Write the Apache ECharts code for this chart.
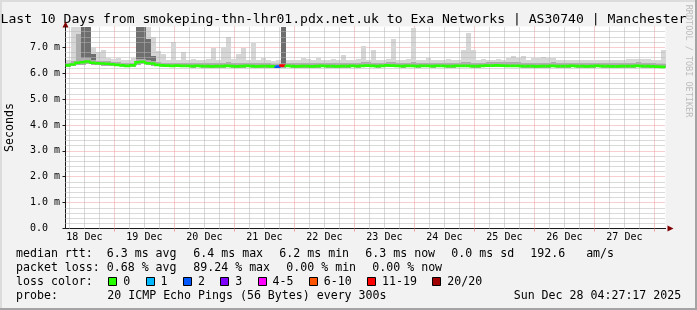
<!DOCTYPE html>
<html><head><meta charset="utf-8">
<script src="https://cdn.jsdelivr.net/npm/echarts@6/dist/echarts.min.js"></script>
<style>html,body{margin:0;padding:0;background:#f2f2f2}#c{width:697px;height:310px}</style>
</head><body><div id="c"></div>
<script>
// ---------------- DATA ----------------
const titleText = 'Last 10 Days from smokeping-thn-lhr01.pdx.net.uk to Exa Networks | AS30740 | Manchester';
const startHour = 4.45;   // hours after 18 Dec 00:00 (18 Dec 04:27)
const binHours = 2;       // each value covers 2 hours
const median = [
 6.30,6.33,6.40,6.42,6.45,6.40,6.38,6.37,6.36,6.34,
 6.32,6.30,6.28,6.30,6.42,6.44,6.38,6.37,6.32,6.30,
 6.29,6.28,6.29,6.28,6.28,6.27,6.28,6.27,6.27,6.26,
 6.27,6.27,6.28,6.27,6.26,6.27,6.28,6.27,6.26,6.27,
 6.27,6.26,6.25,6.29,6.28,6.27,6.26,6.27,6.27,6.26,
 6.27,6.28,6.27,6.27,6.26,6.27,6.27,6.28,6.27,6.28,
 6.29,6.28,6.27,6.28,6.30,6.29,6.28,6.27,6.28,6.28,
 6.27,6.28,6.28,6.27,6.28,6.28,6.27,6.27,6.28,6.28,
 6.28,6.27,6.27,6.28,6.29,6.29,6.30,6.29,6.28,6.28,
 6.28,6.27,6.27,6.27,6.26,6.27,6.27,6.28,6.27,6.27,
 6.27,6.28,6.27,6.27,6.26,6.27,6.28,6.27,6.27,6.26,
 6.26,6.27,6.27,6.27,6.28,6.27,6.27,6.26,6.25,6.24
];
const smokeMin = [
 6.24,6.26,6.30,6.32,6.34,6.30,6.30,6.29,6.28,6.27,
 6.26,6.24,6.22,6.24,6.32,6.34,6.30,6.29,6.26,6.24,
 6.23,6.22,6.23,6.22,6.22,6.21,6.22,6.21,6.21,6.20,
 6.21,6.21,6.22,6.21,6.20,6.21,6.22,6.21,6.20,6.21,
 6.21,6.20,6.19,6.21,6.22,6.21,6.20,6.21,6.21,6.20,
 6.21,6.22,6.21,6.21,6.20,6.21,6.21,6.22,6.21,6.22,
 6.23,6.22,6.21,6.22,6.24,6.23,6.22,6.21,6.22,6.22,
 6.21,6.22,6.22,6.21,6.22,6.22,6.21,6.21,6.22,6.22,
 6.22,6.21,6.21,6.22,6.23,6.23,6.24,6.23,6.22,6.22,
 6.22,6.21,6.21,6.21,6.20,6.21,6.21,6.22,6.21,6.21,
 6.21,6.22,6.21,6.21,6.20,6.21,6.22,6.21,6.21,6.20,
 6.20,6.21,6.21,6.21,6.22,6.21,6.21,6.20,6.19,6.18
];
const smokeLo = [
 6.40,6.45,7.50,6.60,6.58,6.52,6.48,6.46,6.45,6.43,
 6.42,6.40,6.38,6.40,6.55,6.56,6.50,6.48,6.42,6.40,
 6.39,6.40,6.39,6.40,6.38,6.38,6.39,6.38,6.38,6.40,
 6.38,6.40,6.42,6.38,6.38,6.40,6.39,6.40,6.38,6.38,
 6.38,6.37,6.36,6.35,6.39,6.38,6.38,6.39,6.40,6.38,
 6.39,6.40,6.39,6.38,6.38,6.40,6.39,6.40,6.39,6.41,
 6.42,6.40,6.39,6.40,6.42,6.42,6.40,6.39,6.40,6.41,
 6.39,6.40,6.40,6.39,6.40,6.40,6.39,6.39,6.40,6.42,
 6.42,6.39,6.39,6.40,6.42,6.43,6.44,6.42,6.41,6.42,
 6.41,6.40,6.39,6.40,6.38,6.39,6.40,6.41,6.39,6.39,
 6.39,6.40,6.39,6.39,6.38,6.39,6.40,6.39,6.39,6.38,
 6.38,6.40,6.40,6.39,6.41,6.40,6.39,6.38,6.37,6.36
];
const smokeHi = [
 6.40,6.45,7.50,7.80,7.80,6.75,6.48,6.46,6.45,6.43,
 6.42,6.40,6.38,6.40,7.80,7.80,7.30,6.65,6.42,6.40,
 6.39,6.40,6.39,6.40,6.38,6.38,6.39,6.38,6.38,6.40,
 6.38,6.40,6.42,6.38,6.38,6.40,6.39,6.40,6.38,6.38,
 6.38,6.37,6.36,7.80,6.39,6.38,6.38,6.39,6.40,6.38,
 6.39,6.40,6.39,6.38,6.38,6.40,6.39,6.40,6.39,6.41,
 6.42,6.40,6.39,6.40,6.42,6.42,6.40,6.39,6.40,6.41,
 6.39,6.40,6.40,6.39,6.40,6.40,6.39,6.39,6.40,6.42,
 6.42,6.39,6.39,6.40,6.42,6.43,6.44,6.42,6.41,6.42,
 6.41,6.40,6.39,6.40,6.38,6.39,6.40,6.41,6.39,6.39,
 6.39,6.40,6.39,6.39,6.38,6.39,6.40,6.39,6.39,6.38,
 6.38,6.40,6.40,6.39,6.41,6.40,6.39,6.38,6.37,6.36
];
const smokeMax = [
 6.50,7.80,7.80,7.80,7.80,7.00,6.80,6.90,6.60,6.55,
 6.60,6.50,6.50,6.60,7.80,7.80,7.80,7.40,6.85,6.75,
 6.50,7.22,6.50,6.83,6.50,6.55,6.50,6.50,6.55,6.96,
 6.50,7.00,7.39,6.55,6.75,6.96,6.50,7.17,6.50,6.60,
 6.50,6.48,6.50,7.80,6.50,6.52,6.50,6.60,6.55,6.50,
 6.60,6.52,6.50,6.55,6.50,6.70,6.52,6.50,6.55,7.03,
 6.50,6.90,6.52,6.50,6.55,7.31,6.52,6.50,6.55,7.75,
 6.50,6.52,6.60,6.50,6.50,6.52,6.55,6.50,6.52,6.90,
 7.54,6.90,6.52,6.55,6.50,6.52,6.55,6.52,6.60,6.65,
 6.60,6.65,6.50,6.60,6.60,6.62,6.60,6.58,6.52,6.50,
 6.50,6.52,6.50,6.52,6.50,6.52,6.50,6.52,6.50,6.52,
 6.50,6.52,6.55,6.55,6.56,6.55,6.55,6.52,6.50,6.90
];
const lossCount = [
 0,0,0,0,0,0,0,0,0,0, 0,0,0,0,0,0,0,0,0,0,
 0,0,0,0,0,0,0,0,0,0, 0,0,0,0,0,0,0,0,0,0,
 0,0,2,18,0,0,0,0,0,0, 0,0,0,0,0,0,0,0,0,0,
 0,0,0,0,0,0,0,0,0,0, 0,0,0,0,0,0,0,0,0,0,
 0,0,0,0,0,0,0,0,0,0, 0,0,0,0,0,0,0,0,0,0,
 0,0,0,0,0,0,0,0,0,0, 0,0,0,0,0,0,0,0,0,0
];
const dayLabels = ['18 Dec','19 Dec','20 Dec','21 Dec','22 Dec','23 Dec','24 Dec','25 Dec','26 Dec','27 Dec'];
const labelHours = [12,36,60,84,108,132,156,180,204,228];
const midnightHours = [24,48,72,96,120,144,168,192,216,240];
const yTicks = [0,1,2,3,4,5,6,7];
const yMax = 7.8;
const lossThresholds = [0,1,2,3,5,10,19,20];
const lossLabels = ['0','1','2','3','4-5','6-10','11-19','20/20'];
const lossColors = ['#26ff00','#00b8ff','#0059ff','#7e00ff','#ff00ff','#ff5500','#ff0000','#a00000'];
const rttStats = ['median rtt:  6.3 ms avg','6.4 ms max','6.2 ms min','6.3 ms now','0.0 ms sd','192.6   am/s'];
const lossStats = ['packet loss: 0.68 % avg','89.24 % max','0.00 % min','0.00 % now'];
const probeStats = ['probe:','20 ICMP Echo Pings (56 Bytes) every 300s','Sun Dec 28 04:27:17 2025'];
const lossLegendTitle = 'loss color:';
const yTitle = 'Seconds';
const watermark = 'RRDTOOL / TOBI OETIKER';

// ---------------- BUILD ----------------
const MONO = '"DejaVu Sans Mono", monospace';
const nBins = median.length;
const xMin = startHour, xMax = startHour + binHours * nBins;
const xAt = i => startHour + binHours * i;
const minorX = []; for (let h = 6; h < xMax; h += 6) if (h > xMin && h % 24 !== 0) minorX.push(h);
const minorY = []; for (let k = 1; k * 0.2 < yMax - 1e-9; k++) if (k % 5 !== 0) minorY.push(Math.round(k * 0.2 * 10) / 10);
function lossColor(c){ for (let k = 0; k < lossThresholds.length; k++) if (c <= lossThresholds[k]) return lossColors[k]; return lossColors[lossColors.length-1]; }
const smokeRows = median.map((v,i)=>[xAt(i), xAt(i+1), smokeMin[i], smokeLo[i], smokeHi[i], smokeMax[i]]);
const medianRows = median.map((v,i)=>[xAt(i), xAt(i+1), v, i ? median[i-1] : v, lossCount[i]]);
const smokeColors = ['#acacac', '#6e6e6e', '#d6d6d6'];

const G = {left: 65.5, top: 26.5, width: 600, height: 202};
const gridLineMajor = '#f09c9c', gridLineMinor = '#b4b4b4';

const graphics = [];
function txt(text, x, y, size, extra){
  graphics.push(Object.assign({type:'text', x, y, silent:true,
    style:{text, font: size + 'px ' + MONO, fill:'#000', align:'left', verticalAlign:'middle', textAlign:'left', textVerticalAlign:'middle'}}, extra||{}));
}
graphics.push({type:'rect', silent:true, shape:{x:0,y:0,width:697,height:2}, style:{fill:'#dcdcdc'}});
graphics.push({type:'rect', silent:true, shape:{x:0,y:0,width:2,height:310}, style:{fill:'#dcdcdc'}});
graphics.push({type:'rect', silent:true, shape:{x:0,y:308,width:697,height:2}, style:{fill:'#a4a4a4'}});
graphics.push({type:'rect', silent:true, shape:{x:695,y:0,width:2,height:310}, style:{fill:'#a4a4a4'}});
txt(titleText, 0.5, 19.5, 13.1);
graphics.push({type:'text', x:10, y:127.5, rotation: Math.PI/2, silent:true,
  style:{text:yTitle, font:'11.6px ' + MONO, fill:'#000', align:'center', verticalAlign:'middle', textAlign:'center', textVerticalAlign:'middle'}});
graphics.push({type:'text', x:688.5, y:61, rotation: -Math.PI/2, silent:true,
  style:{text:watermark, font:'8.5px ' + MONO, fill:'#bdbdbd', align:'center', verticalAlign:'middle', textAlign:'center', textVerticalAlign:'middle'}});
const LF = 11.6, CW = 6.98;
const rttX = [16,193.3,279.3,365.3,451.3,530.3];
rttStats.forEach((s,k)=>txt(s, rttX[k], 254, LF));
const lossX = [16,193.3,286.3,372.3];
lossStats.forEach((s,k)=>txt(s, lossX[k], 268.3, LF));
txt(lossLegendTitle, 16, 281.5, LF);
let bx = 108.3;
lossLabels.forEach((lab,k)=>{
  graphics.push({type:'rect', silent:true, shape:{x:Math.round(bx)+0.5, y:277.5, width:8, height:8},
    style:{fill:lossColors[k], stroke:'#000', lineWidth:1}});
  txt(lab, bx + 15, 281.5, LF);
  bx += 37.3 + (lab.length - 1) * CW;
});
const probeX = [16,107.3,513.7];
probeStats.forEach((s,k)=>txt(s, probeX[k], 296.3, LF));

const minorLines = minorX.map(h => ({xAxis: h})).concat(minorY.map(v => ({yAxis: v})));

const option = {
  animation:false,
  backgroundColor:'#f2f2f2',
  grid: Object.assign({show:true, backgroundColor:'#ffffff', borderWidth:0, containLabel:false}, G),
  xAxis: [
    { type:'value', min:xMin, max:xMax, z:1.5, position:'bottom',
      axisLine:{show:true, onZero:false, lineStyle:{color:'#1a1a1a', width:1}},
      axisTick:{show:true, length:3, inside:false, customValues: midnightHours, lineStyle:{color:gridLineMajor}},
      axisLabel:{show:true, customValues: labelHours, margin:4, color:'#000', fontFamily:MONO, fontSize:10,
        formatter: v => { let best = 0; labelHours.forEach((h,k)=>{ if (Math.abs(h - v) < Math.abs(labelHours[best] - v)) best = k; }); return dayLabels[best]; } },
      splitLine:{show:true, lineStyle:{color:gridLineMajor, width:1, type:[1,1]}} },
    { type:'value', min:xMin, max:xMax, z:1, position:'bottom', offset:0,
      axisLine:{show:true, onZero:false, symbol:['none','triangle'], symbolSize:[6,6], symbolOffset:[0,5], lineStyle:{color:'#800000', width:1}},
      axisTick:{show:false}, axisLabel:{show:false}, splitLine:{show:false} }
  ],
  yAxis: [
    { type:'value', min:0, max:yMax, z:1.5, position:'left',
      axisLine:{show:true, onZero:false, lineStyle:{color:'#1a1a1a', width:1}},
      axisTick:{show:true, length:3, customValues: yTicks, lineStyle:{color:'#1a1a1a'}},
      axisLabel:{show:true, customValues: yTicks, align:'left', margin:35.5, color:'#000', fontFamily:MONO, fontSize:10,
        formatter: v => v === 0 ? '0.0' : v.toFixed(1) + ' m'},
      splitLine:{show:true, lineStyle:{color:gridLineMajor, width:1, type:[1,1]}} },
    { type:'value', min:0, max:yMax, z:1, position:'left', offset:0,
      axisLine:{show:true, onZero:false, symbol:['none','triangle'], symbolSize:[6,6], symbolOffset:[0,2], lineStyle:{color:'#800000', width:1}},
      axisTick:{show:false}, axisLabel:{show:false}, splitLine:{show:false} }
  ],
  series: [
    { name:'minorGrid', type:'line', xAxisIndex:0, yAxisIndex:0, z:1, silent:true,
      data: [[xMin, -1]], symbol:'none', lineStyle:{opacity:0},
      markLine: { silent:true, symbol:['none','none'], label:{show:false}, animation:false,
        lineStyle:{color:gridLineMinor, width:1, type:[1,1]}, emphasis:{disabled:true},
        data: minorLines } },
    { name:'smoke', type:'custom', xAxisIndex:0, yAxisIndex:0, clip:true, z:2, silent:true,
      data: smokeRows, encode:{x:[0,1], y:[2,5]},
      renderItem: (params, api) => {
        const xa = Math.round(api.coord([api.value(0), 0])[0]);
        const xb = Math.round(api.coord([api.value(1), 0])[0]);
        const y = k => Math.round(api.coord([api.value(0), api.value(k)])[1]);
        const yMin = y(2), yLo = y(3), yHi = y(4), yMx = y(5);
        const rect = (top, bot, color) => ({type:'rect', shape:{x:xa, y:top, width:xb - xa, height:Math.max(0, bot - top)}, style:{fill:color}});
        return {type:'group', children:[
          rect(yMx, yHi, smokeColors[2]),
          rect(yLo, yMin, smokeColors[0]),
          rect(yHi, yLo, smokeColors[1])
        ]};
      } },
    { name:'median', type:'custom', xAxisIndex:0, yAxisIndex:0, clip:true, z:5, silent:true,
      data: medianRows, encode:{x:[0,1], y:[2,3]},
      renderItem: (params, api) => {
        const p0 = api.coord([api.value(0), api.value(3)]);
        const p1 = api.coord([api.value(0), api.value(2)]);
        const p2 = api.coord([api.value(1), api.value(2)]);
        return {type:'polyline', shape:{points:[p0,p1,p2]},
          style:{stroke: lossColor(api.value(4)), lineWidth:2.6, fill:null, lineJoin:'miter'}};
      } }
  ],
  graphic: { elements: graphics }
};
const chart = echarts.init(document.getElementById('c'), null, {renderer:'canvas'});
chart.setOption(option);
</script></body></html>
